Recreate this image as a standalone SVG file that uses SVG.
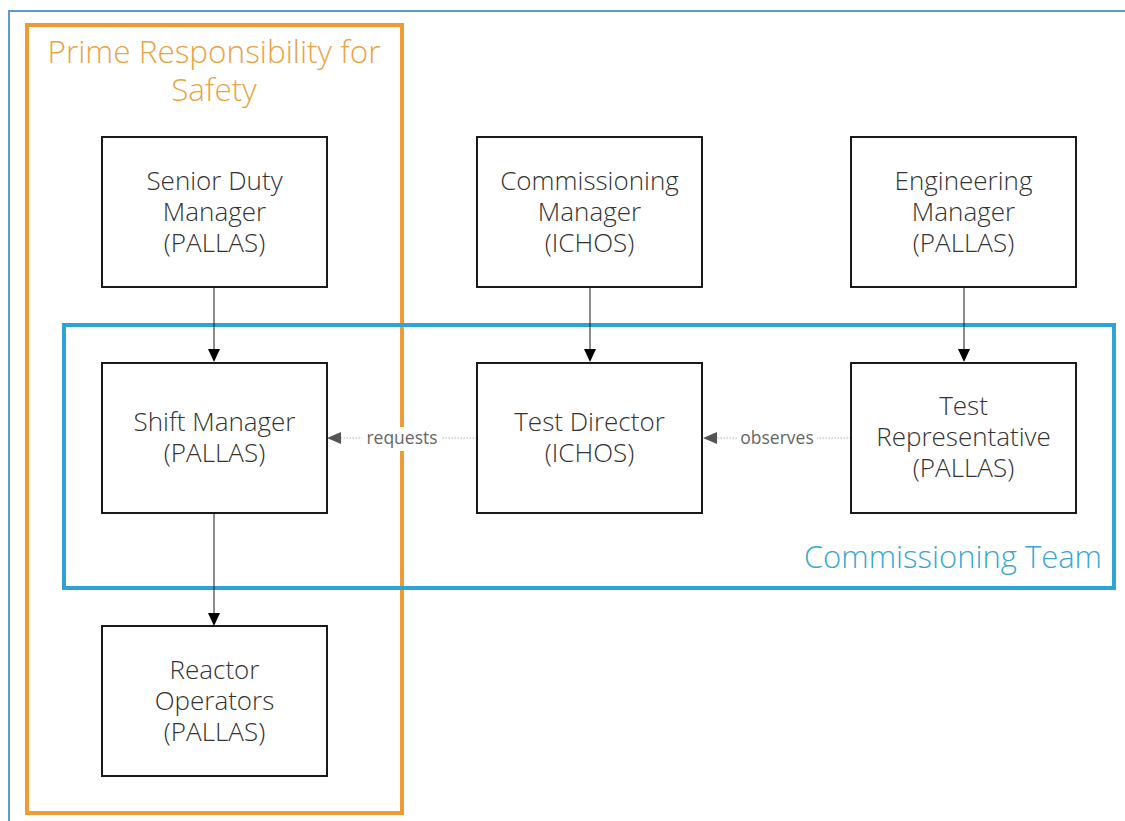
<svg xmlns="http://www.w3.org/2000/svg" width="1125" height="821" viewBox="0 0 1125 821">
  <style>
    .box { fill: #ffffff; stroke: #1a1a1a; stroke-width: 2; }
    .t { font-family: "Open Sans", "Liberation Sans", sans-serif; font-weight: 300; font-size: 26px; fill: #333333; text-anchor: middle; }
    .lbl { font-family: "Open Sans", "Liberation Sans", sans-serif; font-size: 17.5px; fill: #666666; text-anchor: middle; }
    .solid { stroke: #1a1a1a; stroke-width: 1; fill: none; }
    .dot { stroke: #b0b0b0; stroke-width: 1; stroke-dasharray: 1.5 1.5; fill: none; }
  </style>
  <rect width="1125" height="821" fill="#ffffff"/>
  <!-- outer frame -->
  <path d="M9,821 L9,11 L1125,11" fill="none" stroke="#5b9bd5" stroke-width="2"/>

  <g id="containers">
    <g id="prime-responsibility">
      <rect x="27" y="25" width="375" height="788" fill="none" stroke="#ee9a35" stroke-width="4"/>
      <text x="214" y="63" font-family="Open Sans, Liberation Sans, sans-serif" font-weight="300" font-size="31.5" fill="#e8a444" text-anchor="middle">Prime Responsibility for</text>
      <text x="214" y="101" font-family="Open Sans, Liberation Sans, sans-serif" font-weight="300" font-size="31.5" fill="#e8a444" text-anchor="middle">Safety</text>
    </g>
    <g id="commissioning-team">
      <rect x="64" y="325" width="1050" height="263" fill="none" stroke="#2ea3d6" stroke-width="4"/>
      <text x="1102" y="568" font-family="Open Sans, Liberation Sans, sans-serif" font-weight="300" font-size="31" fill="#3aa7d1" text-anchor="end">Commissioning Team</text>
    </g>
  </g>

  <g id="connectors">
    <line class="solid" x1="214" y1="287" x2="214" y2="349"/>
    <path d="M208,349 L220,349 L214,362 Z" fill="#000"/>
    <line class="solid" x1="590" y1="287" x2="590" y2="349"/>
    <path d="M584,349 L596,349 L590,362 Z" fill="#000"/>
    <line class="solid" x1="964" y1="287" x2="964" y2="349"/>
    <path d="M958,349 L970,349 L964,362 Z" fill="#000"/>
    <line class="solid" x1="214" y1="513" x2="214" y2="613"/>
    <path d="M208,613 L220,613 L214,626 Z" fill="#000"/>

    <g id="requests">
      <line class="dot" x1="477" y1="438" x2="340" y2="438"/>
      <path d="M327,438 L341,432 L341,444 Z" fill="#555555"/>
      <rect x="362" y="427" width="80" height="24" fill="#ffffff"/>
      <text class="lbl" x="402" y="444">requests</text>
    </g>
    <g id="observes">
      <line class="dot" x1="851" y1="438" x2="716" y2="438"/>
      <path d="M703,438 L717,432 L717,444 Z" fill="#555555"/>
      <rect x="737" y="427" width="80" height="24" fill="#ffffff"/>
      <text class="lbl" x="777" y="444">observes</text>
    </g>
  </g>

  <g id="senior-duty-manager">
    <rect class="box" x="102" y="137" width="225" height="150"/>
    <text class="t" x="214.5" y="190">Senior Duty</text>
    <text class="t" x="214.5" y="221">Manager</text>
    <text class="t" x="214.5" y="252">(PALLAS)</text>
  </g>
  <g id="commissioning-manager">
    <rect class="box" x="477" y="137" width="225" height="150"/>
    <text class="t" x="589.5" y="190">Commissioning</text>
    <text class="t" x="589.5" y="221">Manager</text>
    <text class="t" x="589.5" y="252">(ICHOS)</text>
  </g>
  <g id="engineering-manager">
    <rect class="box" x="851" y="137" width="225" height="150"/>
    <text class="t" x="963.5" y="190">Engineering</text>
    <text class="t" x="963.5" y="221">Manager</text>
    <text class="t" x="963.5" y="252">(PALLAS)</text>
  </g>
  <g id="shift-manager">
    <rect class="box" x="102" y="363" width="225" height="150"/>
    <text class="t" x="214.5" y="431">Shift Manager</text>
    <text class="t" x="214.5" y="462">(PALLAS)</text>
  </g>
  <g id="test-director">
    <rect class="box" x="477" y="363" width="225" height="150"/>
    <text class="t" x="589.5" y="431">Test Director</text>
    <text class="t" x="589.5" y="462">(ICHOS)</text>
  </g>
  <g id="test-representative">
    <rect class="box" x="851" y="363" width="225" height="150"/>
    <text class="t" x="963.5" y="415">Test</text>
    <text class="t" x="963.5" y="446">Representative</text>
    <text class="t" x="963.5" y="477">(PALLAS)</text>
  </g>
  <g id="reactor-operators">
    <rect class="box" x="102" y="626" width="225" height="150"/>
    <text class="t" x="214.5" y="679">Reactor</text>
    <text class="t" x="214.5" y="710">Operators</text>
    <text class="t" x="214.5" y="741">(PALLAS)</text>
  </g>
</svg>
